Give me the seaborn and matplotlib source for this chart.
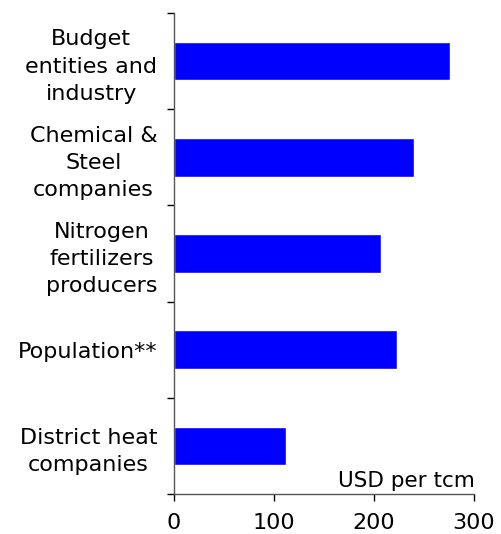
import matplotlib
matplotlib.use("Agg")
import matplotlib.pyplot as plt
import seaborn as sns
import pandas as pd

categories = [
    "Budget\nentities and\nindustry",
    "Chemical &\nSteel\ncompanies",
    "Nitrogen\nfertilizers\nproducers",
    "Population**",
    "District heat\ncompanies",
]
prices = [276, 240, 207, 223, 112]
x_ticks = [0, 100, 200, 300]
unit_label = "USD per tcm"

df = pd.DataFrame({"category": categories, "price": prices})

sns.set_style("white")
plt.rcParams["font.family"] = ["DejaVu Sans"]
plt.rcParams["text.color"] = "black"
plt.rcParams["xtick.color"] = "black"
plt.rcParams["ytick.color"] = "black"
plt.rcParams["xtick.labelcolor"] = "black"
plt.rcParams["ytick.labelcolor"] = "black"

fig = plt.figure(figsize=(5.01, 5.34), dpi=100)
ax = fig.add_axes([174 / 501, 1 - 494 / 534, 300 / 501, 481 / 534])

sns.barplot(data=df, x="price", y="category", orient="h", color="#0000FF",
            saturation=1, width=0.4, ax=ax)

ax.set_xlim(0, 300)
ax.set_ylim(len(categories) - 0.5, -0.5)
ax.set_xticks(x_ticks)
ax.set_xticklabels([str(t) for t in x_ticks], fontsize=16)
ax.set_xlabel("")
ax.set_ylabel("")

# category labels sit between the boundary ticks
ax.set_yticks(range(len(categories)))
ax.set_yticklabels(categories, fontsize=16, multialignment="center", linespacing=1.45)
ax.set_yticks([i - 0.5 for i in range(len(categories) + 1)], minor=True)
ax.tick_params(axis="y", which="major", left=True, length=0, pad=12)
ax.tick_params(axis="y", which="minor", left=True, length=5, width=1,
               color="black", direction="out")
ax.tick_params(axis="x", bottom=True, length=5, width=1, color="black",
               direction="out", pad=9)

for side in ["top", "right"]:
    ax.spines[side].set_visible(False)
for side in ["left", "bottom"]:
    ax.spines[side].set_color("#555555")
    ax.spines[side].set_linewidth(1)

ax.text(301, 4.427, unit_label, fontsize=15.5, ha="right", va="baseline")

fig.savefig("out.png", dpi=100)
